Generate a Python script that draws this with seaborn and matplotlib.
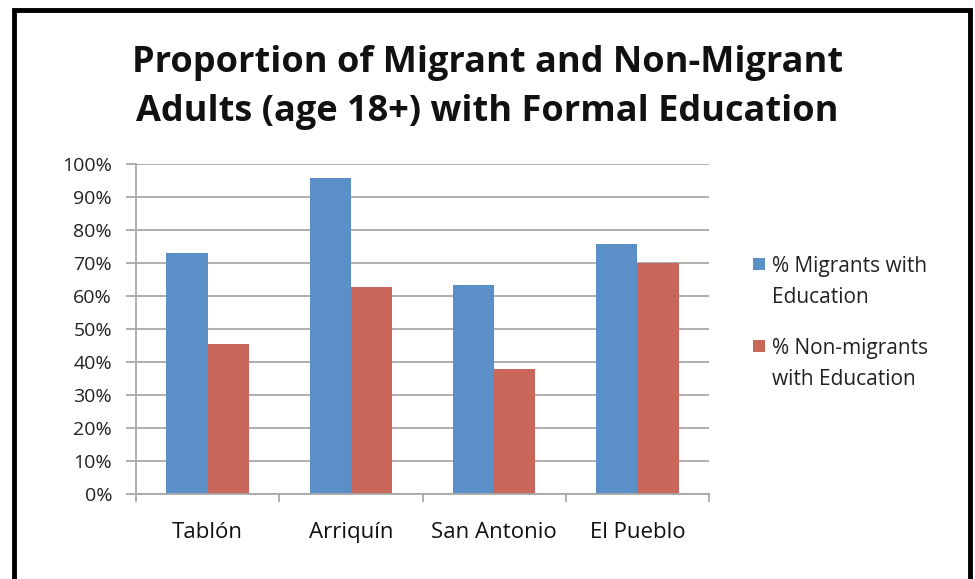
import seaborn as sns
import matplotlib.pyplot as plt
import matplotlib.patches as mpatches
import pandas as pd
from matplotlib.ticker import PercentFormatter, MultipleLocator

# data
places = ["Tablón", "Arriquín", "San Antonio", "El Pueblo"]
migrants = [73.0, 95.8, 63.3, 75.8]
non_migrants = [45.4, 62.7, 37.9, 70.0]
series_names = ["% Migrants with\nEducation", "% Non-migrants\nwith Education"]
colors = ["#5B8FC7", "#C9665A"]
title_lines = ["Proportion of Migrant and Non-Migrant",
               "Adults (age 18+) with Formal Education"]

df = pd.DataFrame({
    "Place": places * 2,
    "Value": migrants + non_migrants,
    "Series": [series_names[0]] * 4 + [series_names[1]] * 4,
})

sns.set_style("white")
plt.rcParams["font.family"] = ["Open Sans", "DejaVu Sans"]

W, H = 975, 579
fig = plt.figure(figsize=(W / 100, H / 100), dpi=100)
ax = fig.add_axes([136 / W, 1 - 494 / H, (709 - 136) / W, (494 - 164) / H])

sns.barplot(
    data=df, x="Place", y="Value", hue="Series",
    palette=colors, width=0.575, gap=0, saturation=1,
    linewidth=0, ax=ax, legend=False,
)

ax.set_ylim(0, 100)
ax.set_xlim(-0.5, 3.5)
ax.yaxis.set_major_locator(MultipleLocator(10))
ax.yaxis.set_major_formatter(PercentFormatter(decimals=0))
ax.grid(axis="y", color="#A8A8A8", linewidth=1.3)
ax.set_axisbelow(True)
for s in ["top", "right"]:
    ax.spines[s].set_visible(False)
for s in ["left", "bottom"]:
    ax.spines[s].set_color("#A8A8A8")
    ax.spines[s].set_linewidth(1.3)
ax.set_xlabel("")
ax.set_ylabel("")

ax.tick_params(axis="y", length=7.2, width=1.3, color="#A8A8A8",
               labelsize=14, labelcolor="#222222", pad=10, left=True)
ax.tick_params(axis="x", length=0, labelsize=16, labelcolor="#111111", pad=20)
# category boundary ticks
ax.set_xticks([-0.5, 0.5, 1.5, 2.5, 3.5], minor=True)
ax.tick_params(axis="x", which="minor", length=6, width=1.3,
               color="#A8A8A8", bottom=True)

# legend: square next to the first line of each two-line label
legend_rows = [264, 346]
for name, col, yc in zip(series_names, colors, legend_rows):
    fig.patches.append(mpatches.Rectangle(
        (753 / W, 1 - (yc + 6) / H), 12 / W, 12 / H,
        transform=fig.transFigure, facecolor=col, edgecolor="none"))
    fig.text(772 / W, 1 - (yc - 8) / H, name, fontsize=15, color="#222222",
             va="top", ha="left", linespacing=1.6)

# title, one line at a time
for line, yc in zip(title_lines, [63, 112]):
    fig.text(0.5, 1 - yc / H, line, ha="center", va="center",
             fontsize=26, fontweight="bold", color="#111111")

# black frame around the chart area (bottom edge cut off in the reference)
frame = mpatches.Rectangle((14 / W, -0.05), (970 - 14) / W, 1.05 - 10 / H,
                           transform=fig.transFigure, fill=False,
                           edgecolor="black", linewidth=3.5)
fig.patches.append(frame)

fig.savefig("out.png", dpi=100)
plt.close(fig)
